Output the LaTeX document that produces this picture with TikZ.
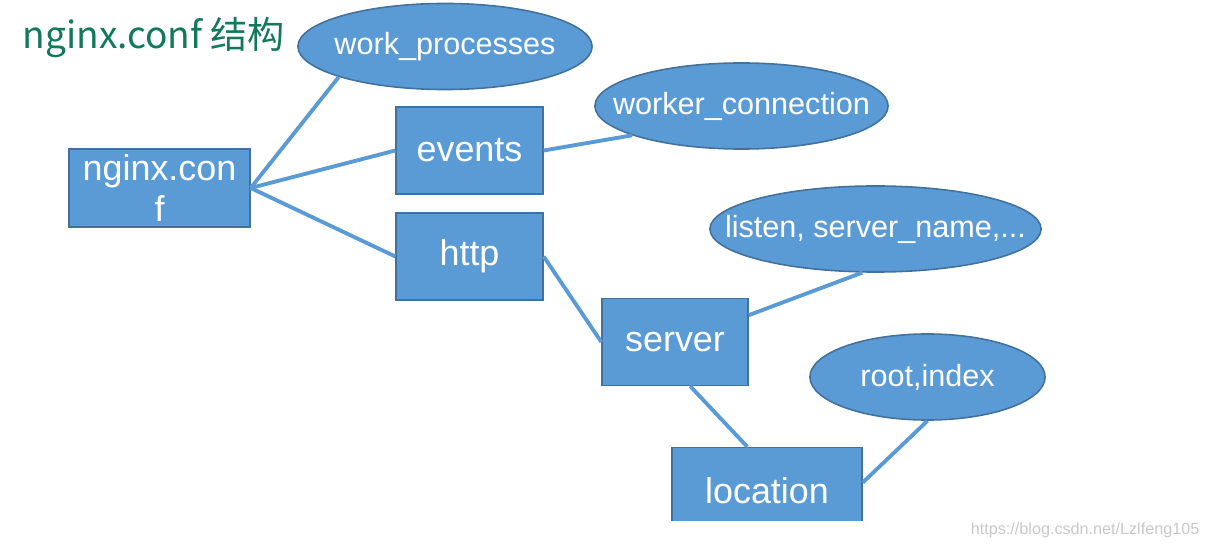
\documentclass[tikz,border=0pt]{standalone}
\usepackage{fontspec}
\setsansfont{Liberation Sans}
\newfontfamily\cjkfont{Noto Sans CJK SC}
\usepackage{xcolor}
\usetikzlibrary{shapes.geometric}
\definecolor{Office}{HTML}{5B9BD5}
\definecolor{OfficeEdge}{HTML}{41719C}
\definecolor{Title}{HTML}{13795B}
\definecolor{Mark}{HTML}{C8C8C8}

\begin{document}
\begin{tikzpicture}[x=0.01cm, y=-0.01cm,
        font=\sffamily\fontsize{10.2}{11.5}\selectfont,
        link/.style={line width=1.1pt, draw=Office},
        block/.style={draw=OfficeEdge, fill=Office, line width=0.35pt, text=white, align=center, inner sep=0pt, minimum height=0.87cm},
        leaf/.style={ellipse, draw=OfficeEdge, fill=Office, line width=0.45pt, text=white, inner sep=0pt, minimum height=0.86cm, font=\sffamily\fontsize{8.7}{10}\selectfont}
      ]
        \useasboundingbox (0,0) rectangle (1209,549);
        \node[anchor=west, inner sep=0pt, text=Title, font=\cjkfont\fontsize{10.55}{12}\selectfont] (title) at (22,38) {nginx.conf 结构};
        \node[block, minimum width=1.81cm, minimum height=0.78cm] (conf) at (159.5,188) {nginx.con\\f};
        \node[block, minimum width=1.47cm] (events) at (469.5,150.5) {events};
        \node[block, minimum width=1.47cm] (http) at (469.5,256.5) {http};
        \node[block, minimum width=1.46cm] (server) at (675,342) {server};
        \begin{scope}
          \clip (0,0) rectangle (1209,521);
          \node[block, minimum width=1.90cm] (location) at (767,491) {location};
        \end{scope}
        \node[leaf, minimum width=2.94cm] (workproc) at (445,46.5) {\makebox[0pt]{work\_processes}};
        \node[leaf, minimum width=2.93cm] (workconn) at (741.5,106) {\makebox[0pt]{worker\_connection}};
        \node[leaf, minimum width=3.31cm] (listen) at (875.5,229) {\makebox[0pt]{listen, server\_name,...}};
        \node[leaf, minimum width=2.35cm] (rootidx) at (927.5,377) {\makebox[0pt]{root,index}};
        \draw[link] (conf.east) -- (workproc.196);
        \draw[link] (conf.east) -- (events.west);
        \draw[link] (conf.east) -- (http.west);
        \draw[link] (events.east) -- (workconn.195);
        \draw[link] (http.east) -- (server.west);
        \draw[link] (server.20) -- (listen.253);
        \draw[link] (server.289) -- (location.114);
        \draw[link] (location.5) -- (rootidx.south);
        \node[anchor=east, inner sep=0pt, text=Mark, font=\sffamily\fontsize{4.6}{5}\selectfont] (mark) at (1200,530) {https://blog.csdn.net/Lzlfeng105};
      \end{tikzpicture}
\end{document}
